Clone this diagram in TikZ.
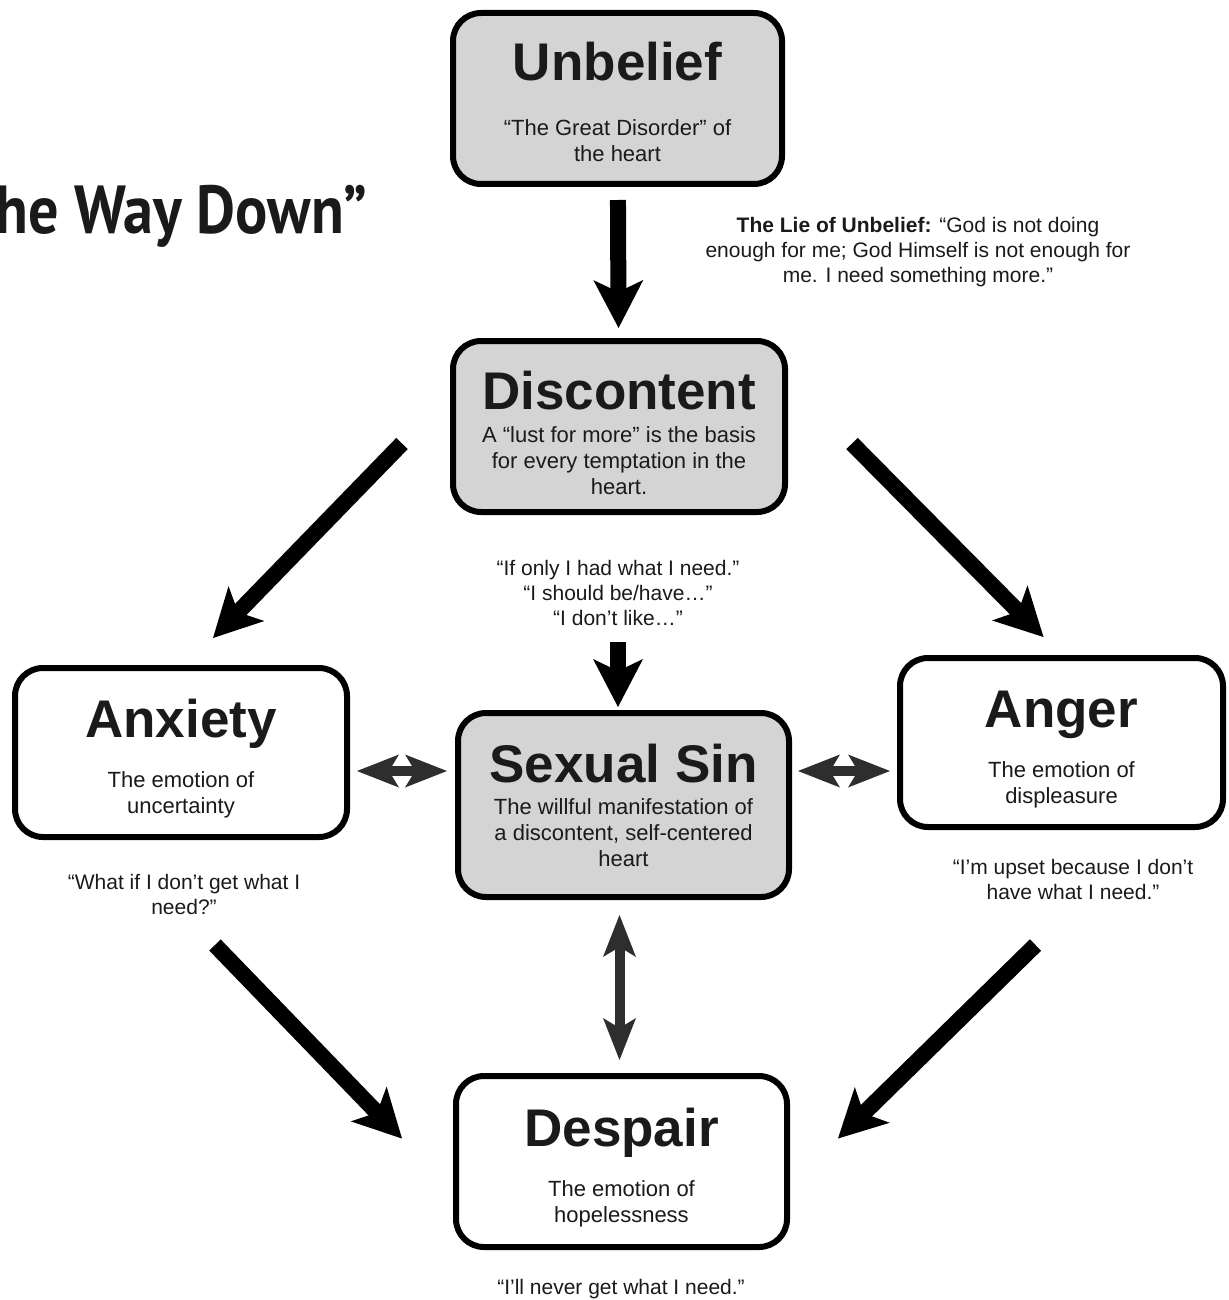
\documentclass[tikz,border=0pt]{standalone}
\usepackage{fontspec}
\usepackage{graphicx}
\setmainfont{Liberation Sans}
\newfontfamily\headfont{PT Sans}
\usepackage{tikz}
\usetikzlibrary{arrows.meta,positioning,calc}

\definecolor{boxgray}{HTML}{D4D4D4}
\definecolor{inkblack}{HTML}{1A1A1A}
\newcommand\boxtitle{\fontsize{53}{56}\selectfont\bfseries}
\newcommand\boxbody{\fontsize{22}{26}\selectfont}
\newcommand\quotetext{\fontsize{21}{25}\selectfont}
\newcommand\titlestrut[1]{\rule{0pt}{#1}}

\begin{document}
\begin{tikzpicture}[
    x=1pt, y=-1pt,
    text=inkblack,
    roundbox/.style={draw, line width=6pt, rounded corners=28pt, align=center,
      font=\boxbody, inner sep=0pt, minimum width=332pt, minimum height=171pt},
    darkbox/.style={roundbox, fill=boxgray},
    lightbox/.style={roundbox, fill=white},
    quote/.style={align=center, font=\quotetext, inner sep=0pt},
    bigarrow/.style={line width=16pt,
      -{Stealth[length=48pt, width=50pt, inset=12pt, line width=0pt]}},
    dblarrow/.style={line width=10pt, black!82,
      {Stealth[length=42pt, width=33pt, inset=10pt, line width=0pt]}-{Stealth[length=42pt, width=33pt, inset=10pt, line width=0pt]}}
  ]
    \useasboundingbox (0,0) rectangle (1228,1300);

    \node[anchor=base west] (title) at (-8,233)
      {\scalebox{0.885}[1]{\headfont\bfseries\fontsize{68}{70}\selectfont he Way Down”}};

    \node[darkbox, minimum width=329pt] (unbelief) at (617.5,98.5)
      {{\boxtitle\titlestrut{45pt}Unbelief}\\[29pt]“The Great Disorder” of\\the heart};
    \node[darkbox, below=151pt of unbelief, xshift=1.5pt] (discontent)
      {{\boxtitle\titlestrut{51pt}Discontent}\\[7pt]A “lust for more” is the basis\\for every temptation in the\\heart.};
    \node[darkbox, below=195pt of discontent, xshift=4.5pt, minimum width=331pt,
      minimum height=184pt] (sexual)
      {{\boxtitle Sexual Sin}\\[6pt]The willful manifestation of\\a discontent, self-centered\\heart};
    \node[lightbox, left=105pt of sexual, yshift=52.5pt, minimum height=169pt] (anxiety)
      {{\boxtitle\titlestrut{51pt}Anxiety}\\[22pt]The emotion of\\uncertainty};
    \node[lightbox, right=105pt of sexual, yshift=62.5pt, minimum width=323pt,
      minimum height=169pt] (anger)
      {{\boxtitle\titlestrut{51pt}Anger}\\[22pt]The emotion of\\displeasure};
    \node[lightbox, below=173pt of sexual, xshift=-2pt, minimum width=331pt] (despair)
      {{\boxtitle\titlestrut{51pt}Despair}\\[22pt]The emotion of\\hopelessness};

    % sayings
    \node[quote] (lie) at (918,252)
      {\textbf{The Lie of Unbelief:} “God is not doing\\enough for me; God Himself is not enough for\\me. I need something more.”};
    \node[quote] (needq) at (618,593)
      {“If only I had what I need.”\\“I should be/have…”\\“I don’t like…”};
    \node[quote] (anxq) at (184,894) {“What if I don’t get what I\\need?”};
    \node[quote] (angq) at (1073,879.5) {“I’m upset because I don’t\\have what I need.”};
    \node[quote] (despq) at (621,1289) {“I’ll never get what I need.”};

    \draw[bigarrow, shorten <=13pt, shorten >=10pt] (unbelief) -- (discontent);
    \draw[bigarrow] ([shift={(-48,17)}]discontent.west) -- ([shift={(32,-27)}]anxiety.north);
    \draw[bigarrow] ([shift={(64,17)}]discontent.east) -- ([shift={(-18,-18)}]anger.north);
    \draw[bigarrow, shorten <=16pt, shorten >=3pt] (needq.south) -- (needq.south |- sexual.north);
    \draw[dblarrow, shorten <=8pt, shorten >=7pt] ([yshift=34pt]sexual.west) -- ([yshift=34pt]sexual.west -| anxiety.east);
    \draw[dblarrow, shorten <=6pt, shorten >=7pt] ([yshift=34pt]sexual.east) -- ([yshift=34pt]sexual.east -| anger.west);
    \draw[dblarrow, shorten <=15pt, shorten >=13pt] ([xshift=-4pt]sexual.south) -- ([xshift=-2pt]despair.north);
    \draw[bigarrow] ([shift={(34,105)}]anxiety.south) -- ([shift={(-51,-23)}]despair.west);
    \draw[bigarrow] ([shift={(-26,115)}]anger.south) -- ([shift={(48,-23)}]despair.east);
  \end{tikzpicture}
\end{document}
